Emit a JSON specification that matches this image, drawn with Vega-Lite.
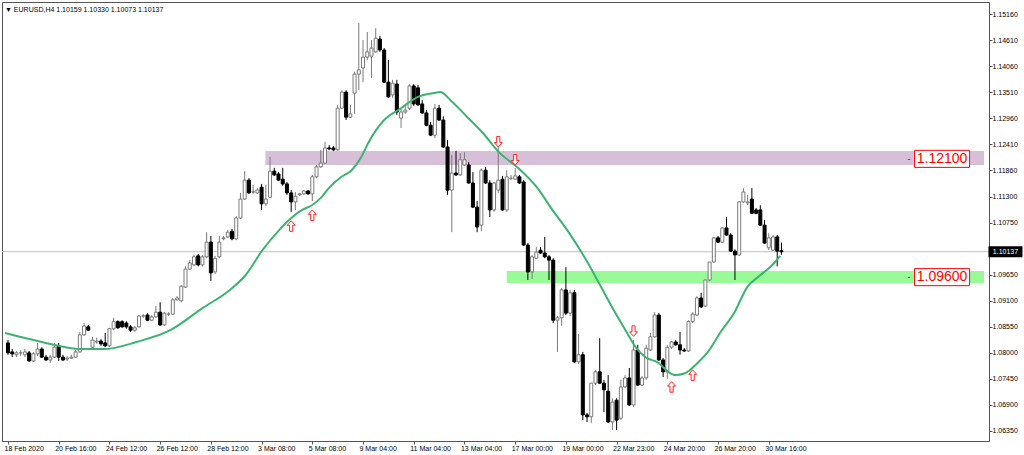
{
"$schema":"https://vega.github.io/schema/vega-lite/v6.json",
"width":987,"height":439,
"padding":{"left":2,"top":2,"right":35,"bottom":14},
"autosize":{"type":"none"},
"background":"#ffffff",
"config":{"view":{"stroke":"#555555","strokeWidth":1},"font":"Liberation Sans",
 "axis":{"tickColor":"#555555","domain":false,"grid":false,"labelFontSize":7,"labelFont":"Liberation Sans","labelColor":"#000000","labelOverlap":false,"labelBound":false,"labelFlush":false}},
"title":{"text":"▼ EURUSD,H4  1.10159 1.10330 1.10073 1.10137","anchor":"start","orient":"top","frame":"group","offset":-11,"dx":3,"fontSize":7,"font":"Liberation Sans","fontWeight":"normal","color":"#000000"},
"datasets":{
"zones":[{"i":60.9,"i2":230.92,"p1":1.12265,"p2":1.1197,"z":"resistance"},{"i":118.0,"i2":230.92,"p1":1.0973,"p2":1.09476,"z":"support"}],
"levels":[{"i":221.0,"p":1.121,"t":"1.12100"},{"i":221.0,"p":1.096,"t":"1.09600"}],
"last":[{"i":183,"p":1.10137,"t":"1.10137"}],
"candles":[
{"i":0,"o":1.0821,"h":1.0827,"l":1.0796,"c":1.0800,"d":"dn"},
{"i":1,"o":1.0802,"h":1.0808,"l":1.0791,"c":1.0798,"d":"dn"},
{"i":2,"o":1.0796,"h":1.0804,"l":1.0791,"c":1.0800,"d":"up"},
{"i":3,"o":1.0800,"h":1.0806,"l":1.0793,"c":1.0800,"d":"up"},
{"i":4,"o":1.0796,"h":1.0808,"l":1.0791,"c":1.0802,"d":"up"},
{"i":5,"o":1.0800,"h":1.0804,"l":1.0781,"c":1.0783,"d":"dn"},
{"i":6,"o":1.0783,"h":1.0802,"l":1.0781,"c":1.0798,"d":"up"},
{"i":7,"o":1.0798,"h":1.0821,"l":1.0793,"c":1.0808,"d":"up"},
{"i":8,"o":1.0808,"h":1.0812,"l":1.0789,"c":1.0791,"d":"dn"},
{"i":9,"o":1.0791,"h":1.0796,"l":1.0783,"c":1.0785,"d":"dn"},
{"i":10,"o":1.0785,"h":1.0796,"l":1.0779,"c":1.0791,"d":"up"},
{"i":11,"o":1.0791,"h":1.0821,"l":1.0789,"c":1.0812,"d":"up"},
{"i":12,"o":1.0815,"h":1.0821,"l":1.0783,"c":1.0791,"d":"dn"},
{"i":13,"o":1.0791,"h":1.0796,"l":1.0783,"c":1.0785,"d":"dn"},
{"i":14,"o":1.0787,"h":1.0793,"l":1.0783,"c":1.0789,"d":"up"},
{"i":15,"o":1.0789,"h":1.0796,"l":1.0787,"c":1.0791,"d":"up"},
{"i":16,"o":1.0791,"h":1.0806,"l":1.0789,"c":1.0802,"d":"up"},
{"i":17,"o":1.0802,"h":1.0844,"l":1.0800,"c":1.0838,"d":"up"},
{"i":18,"o":1.0838,"h":1.0863,"l":1.0836,"c":1.0857,"d":"up"},
{"i":19,"o":1.0855,"h":1.0859,"l":1.0846,"c":1.0848,"d":"dn"},
{"i":20,"o":1.0812,"h":1.0834,"l":1.0808,"c":1.0827,"d":"up"},
{"i":21,"o":1.0823,"h":1.0832,"l":1.0819,"c":1.0825,"d":"up"},
{"i":22,"o":1.0825,"h":1.0829,"l":1.0815,"c":1.0819,"d":"dn"},
{"i":23,"o":1.0821,"h":1.0842,"l":1.0812,"c":1.0815,"d":"dn"},
{"i":24,"o":1.0815,"h":1.0853,"l":1.0812,"c":1.0851,"d":"up"},
{"i":25,"o":1.0851,"h":1.0874,"l":1.0848,"c":1.0866,"d":"up"},
{"i":26,"o":1.0866,"h":1.0869,"l":1.0851,"c":1.0853,"d":"dn"},
{"i":27,"o":1.0866,"h":1.0869,"l":1.0853,"c":1.0855,"d":"dn"},
{"i":28,"o":1.0863,"h":1.0867,"l":1.0851,"c":1.0855,"d":"dn"},
{"i":29,"o":1.0855,"h":1.0859,"l":1.0844,"c":1.0848,"d":"dn"},
{"i":30,"o":1.0848,"h":1.0857,"l":1.0844,"c":1.0853,"d":"up"},
{"i":31,"o":1.0855,"h":1.0880,"l":1.0853,"c":1.0878,"d":"up"},
{"i":32,"o":1.0878,"h":1.0882,"l":1.0874,"c":1.0878,"d":"up"},
{"i":33,"o":1.0880,"h":1.0884,"l":1.0867,"c":1.0869,"d":"dn"},
{"i":34,"o":1.0869,"h":1.0880,"l":1.0867,"c":1.0876,"d":"up"},
{"i":35,"o":1.0876,"h":1.0899,"l":1.0874,"c":1.0886,"d":"up"},
{"i":36,"o":1.0886,"h":1.0907,"l":1.0857,"c":1.0859,"d":"dn"},
{"i":37,"o":1.0859,"h":1.0886,"l":1.0857,"c":1.0884,"d":"up"},
{"i":38,"o":1.0882,"h":1.0886,"l":1.0878,"c":1.0882,"d":"up"},
{"i":39,"o":1.0882,"h":1.0916,"l":1.0880,"c":1.0912,"d":"up"},
{"i":40,"o":1.0912,"h":1.0920,"l":1.0910,"c":1.0916,"d":"up"},
{"i":41,"o":1.0910,"h":1.0943,"l":1.0907,"c":1.0941,"d":"up"},
{"i":42,"o":1.0939,"h":1.0983,"l":1.0937,"c":1.0977,"d":"up"},
{"i":43,"o":1.0977,"h":1.0996,"l":1.0975,"c":1.0990,"d":"up"},
{"i":44,"o":1.0986,"h":1.1007,"l":1.0983,"c":1.1003,"d":"up"},
{"i":45,"o":1.1005,"h":1.1009,"l":1.0983,"c":1.0986,"d":"dn"},
{"i":46,"o":1.0986,"h":1.1007,"l":1.0983,"c":1.1003,"d":"up"},
{"i":47,"o":1.1003,"h":1.1055,"l":1.1000,"c":1.1034,"d":"up"},
{"i":48,"o":1.1034,"h":1.1047,"l":1.0952,"c":1.0969,"d":"dn"},
{"i":49,"o":1.0971,"h":1.1005,"l":1.0967,"c":1.1000,"d":"up"},
{"i":50,"o":1.1003,"h":1.1047,"l":1.1000,"c":1.1034,"d":"up"},
{"i":51,"o":1.1041,"h":1.1047,"l":1.1038,"c":1.1043,"d":"up"},
{"i":52,"o":1.1045,"h":1.1060,"l":1.1043,"c":1.1055,"d":"up"},
{"i":53,"o":1.1057,"h":1.1062,"l":1.1038,"c":1.1041,"d":"dn"},
{"i":54,"o":1.1041,"h":1.1089,"l":1.1038,"c":1.1085,"d":"up"},
{"i":55,"o":1.1085,"h":1.1138,"l":1.1083,"c":1.1125,"d":"up"},
{"i":56,"o":1.1125,"h":1.1184,"l":1.1123,"c":1.1165,"d":"up"},
{"i":57,"o":1.1165,"h":1.1169,"l":1.1136,"c":1.1138,"d":"dn"},
{"i":58,"o":1.1140,"h":1.1155,"l":1.1136,"c":1.1140,"d":"up"},
{"i":59,"o":1.1138,"h":1.1148,"l":1.1136,"c":1.1144,"d":"up"},
{"i":60,"o":1.1150,"h":1.1157,"l":1.1102,"c":1.1115,"d":"dn"},
{"i":61,"o":1.1115,"h":1.1155,"l":1.1110,"c":1.1125,"d":"up"},
{"i":62,"o":1.1129,"h":1.1214,"l":1.1127,"c":1.1184,"d":"up"},
{"i":63,"o":1.1184,"h":1.1191,"l":1.1174,"c":1.1176,"d":"dn"},
{"i":64,"o":1.1178,"h":1.1182,"l":1.1163,"c":1.1165,"d":"dn"},
{"i":65,"o":1.1167,"h":1.1191,"l":1.1153,"c":1.1157,"d":"dn"},
{"i":66,"o":1.1157,"h":1.1161,"l":1.1134,"c":1.1138,"d":"dn"},
{"i":67,"o":1.1138,"h":1.1144,"l":1.1098,"c":1.1119,"d":"dn"},
{"i":68,"o":1.1119,"h":1.1140,"l":1.1102,"c":1.1131,"d":"up"},
{"i":69,"o":1.1134,"h":1.1138,"l":1.1131,"c":1.1136,"d":"up"},
{"i":70,"o":1.1136,"h":1.1144,"l":1.1134,"c":1.1142,"d":"up"},
{"i":71,"o":1.1142,"h":1.1144,"l":1.1134,"c":1.1136,"d":"dn"},
{"i":72,"o":1.1136,"h":1.1176,"l":1.1121,"c":1.1172,"d":"up"},
{"i":73,"o":1.1172,"h":1.1197,"l":1.1169,"c":1.1193,"d":"up"},
{"i":74,"o":1.1193,"h":1.1229,"l":1.1191,"c":1.1201,"d":"up"},
{"i":75,"o":1.1201,"h":1.1246,"l":1.1199,"c":1.1233,"d":"up"},
{"i":76,"o":1.1233,"h":1.1239,"l":1.1229,"c":1.1231,"d":"dn"},
{"i":77,"o":1.1233,"h":1.1237,"l":1.1227,"c":1.1229,"d":"dn"},
{"i":78,"o":1.1229,"h":1.1324,"l":1.1227,"c":1.1317,"d":"up"},
{"i":79,"o":1.1317,"h":1.1355,"l":1.1315,"c":1.1351,"d":"up"},
{"i":80,"o":1.1351,"h":1.1355,"l":1.1292,"c":1.1298,"d":"dn"},
{"i":81,"o":1.1298,"h":1.1324,"l":1.1296,"c":1.1305,"d":"up"},
{"i":82,"o":1.1349,"h":1.1394,"l":1.1305,"c":1.1389,"d":"up"},
{"i":83,"o":1.1389,"h":1.1497,"l":1.1355,"c":1.1398,"d":"up"},
{"i":84,"o":1.1402,"h":1.1461,"l":1.1372,"c":1.1425,"d":"up"},
{"i":85,"o":1.1425,"h":1.1478,"l":1.1419,"c":1.1436,"d":"up"},
{"i":86,"o":1.1427,"h":1.1461,"l":1.1381,"c":1.1444,"d":"up"},
{"i":87,"o":1.1436,"h":1.1486,"l":1.1434,"c":1.1465,"d":"up"},
{"i":88,"o":1.1463,"h":1.1470,"l":1.1436,"c":1.1440,"d":"dn"},
{"i":89,"o":1.1440,"h":1.1444,"l":1.1370,"c":1.1372,"d":"dn"},
{"i":90,"o":1.1372,"h":1.1419,"l":1.1339,"c":1.1341,"d":"dn"},
{"i":91,"o":1.1345,"h":1.1377,"l":1.1339,"c":1.1370,"d":"up"},
{"i":92,"o":1.1368,"h":1.1377,"l":1.1303,"c":1.1309,"d":"dn"},
{"i":93,"o":1.1296,"h":1.1317,"l":1.1275,"c":1.1309,"d":"up"},
{"i":94,"o":1.1309,"h":1.1324,"l":1.1305,"c":1.1313,"d":"up"},
{"i":95,"o":1.1317,"h":1.1368,"l":1.1313,"c":1.1364,"d":"up"},
{"i":96,"o":1.1364,"h":1.1368,"l":1.1322,"c":1.1326,"d":"dn"},
{"i":97,"o":1.1360,"h":1.1366,"l":1.1322,"c":1.1324,"d":"dn"},
{"i":98,"o":1.1326,"h":1.1334,"l":1.1305,"c":1.1307,"d":"dn"},
{"i":99,"o":1.1307,"h":1.1313,"l":1.1279,"c":1.1281,"d":"dn"},
{"i":100,"o":1.1281,"h":1.1288,"l":1.1258,"c":1.1260,"d":"dn"},
{"i":101,"o":1.1260,"h":1.1326,"l":1.1254,"c":1.1317,"d":"up"},
{"i":102,"o":1.1317,"h":1.1324,"l":1.1290,"c":1.1292,"d":"dn"},
{"i":103,"o":1.1292,"h":1.1300,"l":1.1233,"c":1.1235,"d":"dn"},
{"i":104,"o":1.1235,"h":1.1250,"l":1.1134,"c":1.1144,"d":"dn"},
{"i":105,"o":1.1144,"h":1.1218,"l":1.1055,"c":1.1180,"d":"up"},
{"i":106,"o":1.1180,"h":1.1227,"l":1.1174,"c":1.1176,"d":"dn"},
{"i":107,"o":1.1176,"h":1.1222,"l":1.1174,"c":1.1208,"d":"up"},
{"i":108,"o":1.1197,"h":1.1224,"l":1.1195,"c":1.1208,"d":"up"},
{"i":109,"o":1.1197,"h":1.1203,"l":1.1157,"c":1.1159,"d":"dn"},
{"i":110,"o":1.1159,"h":1.1182,"l":1.1106,"c":1.1108,"d":"dn"},
{"i":111,"o":1.1108,"h":1.1121,"l":1.1055,"c":1.1066,"d":"dn"},
{"i":112,"o":1.1070,"h":1.1190,"l":1.1057,"c":1.1186,"d":"up"},
{"i":113,"o":1.1186,"h":1.1193,"l":1.1157,"c":1.1159,"d":"dn"},
{"i":114,"o":1.1159,"h":1.1165,"l":1.1087,"c":1.1102,"d":"dn"},
{"i":115,"o":1.1102,"h":1.1161,"l":1.1098,"c":1.1159,"d":"up"},
{"i":116,"o":1.1144,"h":1.1235,"l":1.1138,"c":1.1165,"d":"up"},
{"i":117,"o":1.1167,"h":1.1174,"l":1.1100,"c":1.1102,"d":"dn"},
{"i":118,"o":1.1102,"h":1.1186,"l":1.1098,"c":1.1172,"d":"up"},
{"i":119,"o":1.1169,"h":1.1176,"l":1.1165,"c":1.1169,"d":"up"},
{"i":120,"o":1.1167,"h":1.1191,"l":1.1165,"c":1.1174,"d":"up"},
{"i":121,"o":1.1172,"h":1.1176,"l":1.1157,"c":1.1159,"d":"dn"},
{"i":122,"o":1.1161,"h":1.1165,"l":1.1026,"c":1.1028,"d":"dn"},
{"i":123,"o":1.1028,"h":1.1032,"l":1.0954,"c":1.0971,"d":"dn"},
{"i":124,"o":1.0971,"h":1.1007,"l":1.0956,"c":1.1003,"d":"up"},
{"i":125,"o":1.1000,"h":1.1024,"l":1.0998,"c":1.1013,"d":"up"},
{"i":126,"o":1.1017,"h":1.1024,"l":1.1009,"c":1.1011,"d":"dn"},
{"i":127,"o":1.1011,"h":1.1045,"l":1.1000,"c":1.1003,"d":"dn"},
{"i":128,"o":1.1003,"h":1.1007,"l":1.0954,"c":1.0996,"d":"dn"},
{"i":129,"o":1.0996,"h":1.1000,"l":1.0863,"c":1.0869,"d":"dn"},
{"i":130,"o":1.0869,"h":1.0878,"l":1.0802,"c":1.0874,"d":"up"},
{"i":131,"o":1.0874,"h":1.0937,"l":1.0857,"c":1.0933,"d":"up"},
{"i":132,"o":1.0933,"h":1.0981,"l":1.0880,"c":1.0884,"d":"dn"},
{"i":133,"o":1.0884,"h":1.0933,"l":1.0878,"c":1.0927,"d":"up"},
{"i":134,"o":1.0927,"h":1.0933,"l":1.0779,"c":1.0781,"d":"dn"},
{"i":135,"o":1.0781,"h":1.0840,"l":1.0777,"c":1.0796,"d":"up"},
{"i":136,"o":1.0796,"h":1.0802,"l":1.0658,"c":1.0669,"d":"dn"},
{"i":137,"o":1.0669,"h":1.0673,"l":1.0654,"c":1.0665,"d":"dn"},
{"i":138,"o":1.0665,"h":1.0736,"l":1.0652,"c":1.0736,"d":"up"},
{"i":139,"o":1.0736,"h":1.0764,"l":1.0732,"c":1.0760,"d":"up"},
{"i":140,"o":1.0760,"h":1.0831,"l":1.0734,"c":1.0736,"d":"dn"},
{"i":141,"o":1.0736,"h":1.0743,"l":1.0675,"c":1.0722,"d":"dn"},
{"i":142,"o":1.0719,"h":1.0753,"l":1.0652,"c":1.0654,"d":"dn"},
{"i":143,"o":1.0654,"h":1.0704,"l":1.0637,"c":1.0696,"d":"up"},
{"i":144,"o":1.0700,"h":1.0704,"l":1.0637,"c":1.0658,"d":"dn"},
{"i":145,"o":1.0662,"h":1.0743,"l":1.0658,"c":1.0728,"d":"up"},
{"i":146,"o":1.0728,"h":1.0753,"l":1.0726,"c":1.0747,"d":"up"},
{"i":147,"o":1.0747,"h":1.0768,"l":1.0688,"c":1.0690,"d":"dn"},
{"i":148,"o":1.0690,"h":1.0827,"l":1.0686,"c":1.0806,"d":"up"},
{"i":149,"o":1.0806,"h":1.0817,"l":1.0730,"c":1.0732,"d":"dn"},
{"i":150,"o":1.0732,"h":1.0751,"l":1.0730,"c":1.0747,"d":"up"},
{"i":151,"o":1.0747,"h":1.0817,"l":1.0743,"c":1.0810,"d":"up"},
{"i":152,"o":1.0806,"h":1.0842,"l":1.0804,"c":1.0834,"d":"up"},
{"i":153,"o":1.0834,"h":1.0886,"l":1.0832,"c":1.0880,"d":"up"},
{"i":154,"o":1.0880,"h":1.0884,"l":1.0783,"c":1.0785,"d":"dn"},
{"i":155,"o":1.0785,"h":1.0789,"l":1.0749,"c":1.0760,"d":"dn"},
{"i":156,"o":1.0760,"h":1.0817,"l":1.0745,"c":1.0812,"d":"up"},
{"i":157,"o":1.0812,"h":1.0825,"l":1.0808,"c":1.0823,"d":"up"},
{"i":158,"o":1.0823,"h":1.0827,"l":1.0815,"c":1.0817,"d":"dn"},
{"i":159,"o":1.0817,"h":1.0844,"l":1.0796,"c":1.0806,"d":"dn"},
{"i":160,"o":1.0806,"h":1.0810,"l":1.0802,"c":1.0804,"d":"dn"},
{"i":161,"o":1.0804,"h":1.0869,"l":1.0802,"c":1.0866,"d":"up"},
{"i":162,"o":1.0866,"h":1.0886,"l":1.0863,"c":1.0882,"d":"up"},
{"i":163,"o":1.0880,"h":1.0920,"l":1.0878,"c":1.0916,"d":"up"},
{"i":164,"o":1.0916,"h":1.0927,"l":1.0895,"c":1.0897,"d":"dn"},
{"i":165,"o":1.0899,"h":1.0954,"l":1.0897,"c":1.0954,"d":"up"},
{"i":166,"o":1.0954,"h":1.0992,"l":1.0952,"c":1.0992,"d":"up"},
{"i":167,"o":1.0992,"h":1.1045,"l":1.0990,"c":1.1043,"d":"up"},
{"i":168,"o":1.1043,"h":1.1047,"l":1.1032,"c":1.1034,"d":"dn"},
{"i":169,"o":1.1034,"h":1.1066,"l":1.1032,"c":1.1064,"d":"up"},
{"i":170,"o":1.1064,"h":1.1087,"l":1.1047,"c":1.1049,"d":"dn"},
{"i":171,"o":1.1049,"h":1.1053,"l":1.1013,"c":1.1015,"d":"dn"},
{"i":172,"o":1.1015,"h":1.1019,"l":1.0954,"c":1.1007,"d":"dn"},
{"i":173,"o":1.1007,"h":1.1121,"l":1.1005,"c":1.1119,"d":"up"},
{"i":174,"o":1.1119,"h":1.1148,"l":1.1117,"c":1.1140,"d":"up"},
{"i":175,"o":1.1117,"h":1.1134,"l":1.1112,"c":1.1119,"d":"up"},
{"i":176,"o":1.1125,"h":1.1148,"l":1.1093,"c":1.1095,"d":"dn"},
{"i":177,"o":1.1102,"h":1.1106,"l":1.1093,"c":1.1095,"d":"dn"},
{"i":178,"o":1.1102,"h":1.1112,"l":1.1068,"c":1.1070,"d":"dn"},
{"i":179,"o":1.1070,"h":1.1081,"l":1.1030,"c":1.1032,"d":"dn"},
{"i":180,"o":1.1022,"h":1.1053,"l":1.1017,"c":1.1043,"d":"up"},
{"i":181,"o":1.1017,"h":1.1049,"l":1.1015,"c":1.1045,"d":"up"},
{"i":182,"o":1.1045,"h":1.1049,"l":1.0983,"c":1.1015,"d":"dn"},
{"i":183,"o":1.10159,"h":1.10330,"l":1.10073,"c":1.10137,"d":"dn"}
],
"ma":[
{"i":-0.7,"p":1.0842},{"i":7.0,"p":1.0825},{"i":15.0,"p":1.0810},{"i":17.3,"p":1.0808},{"i":22.7,"p":1.0808},{"i":30.4,"p":1.0823},{"i":38.4,"p":1.0848},{"i":46.1,"p":1.0895},{"i":52.5,"p":1.0933},{"i":56.2,"p":1.0964},{"i":60.2,"p":1.1017},{"i":64.2,"p":1.1060},{"i":66.5,"p":1.1081},{"i":69.6,"p":1.1102},{"i":71.9,"p":1.1112},{"i":74.2,"p":1.1129},{"i":75.9,"p":1.1148},{"i":78.9,"p":1.1172},{"i":81.3,"p":1.1186},{"i":83.6,"p":1.1214},{"i":85.2,"p":1.1243},{"i":89.0,"p":1.1292},{"i":93.0,"p":1.1317},{"i":97.0,"p":1.1341},{"i":100.7,"p":1.1349},{"i":102.3,"p":1.1351},{"i":104.7,"p":1.1334},{"i":108.7,"p":1.1298},{"i":112.4,"p":1.1264},{"i":116.4,"p":1.1222},{"i":120.4,"p":1.1193},{"i":125.1,"p":1.1150},{"i":128.8,"p":1.1102},{"i":132.8,"p":1.1053},{"i":136.8,"p":1.0996},{"i":139.8,"p":1.0948},{"i":142.9,"p":1.0897},{"i":146.1,"p":1.0848},{"i":148.5,"p":1.0812},{"i":150.8,"p":1.0791},{"i":153.9,"p":1.0779},{"i":156.2,"p":1.0760},{"i":157.8,"p":1.0753},{"i":160.2,"p":1.0757},{"i":163.2,"p":1.0779},{"i":165.6,"p":1.0802},{"i":168.6,"p":1.0844},{"i":171.9,"p":1.0886},{"i":174.9,"p":1.0939},{"i":178.0,"p":1.0964},{"i":181.3,"p":1.0990},{"i":182.7,"p":1.1005}
],
"arrows":[
{"i":67,"p":1.1068,"dir":"up"},{"i":72,"p":1.1091,"dir":"up"},{"i":116,"p":1.1246,"dir":"down"},{"i":120,"p":1.1208,"dir":"down"},{"i":148,"p":1.0846,"dir":"down"},{"i":157,"p":1.0728,"dir":"up"},{"i":162,"p":1.0753,"dir":"up"}
]
},
"layer":[
{"data":{"name":"zones"},"mark":{"type":"rect"},
 "encoding":{
  "x":{"field":"i","type":"quantitative","scale":{"domain":[-0.234,230.92],"nice":false,"zero":false},
   "axis":{"title":null,"values":[0,12,24,36,48,60,72,84,96,108,120,132,144,156,168,180],"tickCount":40,
    "labelExpr":"['18 Feb 2020','20 Feb 16:00','24 Feb 12:00','26 Feb 12:00','28 Feb 12:00','3 Mar 08:00','5 Mar 08:00','9 Mar 04:00','11 Mar 04:00','13 Mar 04:00','17 Mar 00:00','19 Mar 00:00','22 Mar 23:00','24 Mar 20:00','26 Mar 20:00','30 Mar 16:00'][round(datum.value/12)]",
    "labelAlign":"left","labelOffset":-4,"labelBaseline":"top","labelPadding":0,"tickSize":3,"labelOverlap":false,"labelBound":false,"labelFlush":false}},
  "x2":{"field":"i2"},
  "y":{"field":"p1","type":"quantitative","scale":{"domain":[1.06138,1.15414],"nice":false,"zero":false},
   "axis":{"orient":"right","title":null,"values":[1.0635,1.069,1.0745,1.08,1.0855,1.091,1.0965,1.1075,1.113,1.1186,1.1241,1.1296,1.1351,1.1406,1.1461,1.1516],"tickCount":40,"format":".5f","tickSize":3,"labelPadding":0,"labelOverlap":false,"labelBound":false,"labelFlush":false}},
  "y2":{"field":"p2"},
  "fill":{"condition":{"test":"datum.z==='resistance'","value":"#d8bfd8"},"value":"#98fb98"}
 }},
{"data":{"name":"last"},"mark":{"type":"rule","color":"#c0c0c0","strokeWidth":1},
 "encoding":{"y":{"field":"p","type":"quantitative","scale":{"domain":[1.06138,1.15414],"nice":false,"zero":false}}}},
{"data":{"name":"candles"},"mark":{"type":"rule","strokeWidth":1},
 "encoding":{
  "x":{"field":"i","type":"quantitative","scale":{"domain":[-0.234,230.92],"nice":false,"zero":false}},
  "y":{"field":"l","type":"quantitative","scale":{"domain":[1.06138,1.15414],"nice":false,"zero":false}},
  "y2":{"field":"h"},
  "color":{"condition":{"test":"datum.d==='up'","value":"#7a7a7a"},"value":"#000000"}
 }},
{"data":{"name":"candles"},"mark":{"type":"bar","width":3,"strokeWidth":1},
 "encoding":{
  "x":{"field":"i","type":"quantitative","scale":{"domain":[-0.234,230.92],"nice":false,"zero":false}},
  "y":{"field":"o","type":"quantitative","scale":{"domain":[1.06138,1.15414],"nice":false,"zero":false}},
  "y2":{"field":"c"},
  "fill":{"condition":{"test":"datum.d==='up'","value":"#ffffff"},"value":"#000000"},
  "stroke":{"condition":{"test":"datum.d==='up'","value":"#7a7a7a"},"value":"#000000"}
 }},
{"data":{"name":"ma"},"mark":{"type":"line","color":"#3cb371","strokeWidth":2,"clip":true,"interpolate":"monotone"},
 "encoding":{
  "x":{"field":"i","type":"quantitative","scale":{"domain":[-0.234,230.92],"nice":false,"zero":false}},
  "y":{"field":"p","type":"quantitative","scale":{"domain":[1.06138,1.15414],"nice":false,"zero":false}}
 }},
{"data":{"name":"arrows"},"mark":{"type":"point","filled":true,"fill":"#ffffff","stroke":"#ff2020","strokeWidth":1,"size":110,"opacity":1},
 "encoding":{
  "x":{"field":"i","type":"quantitative","scale":{"domain":[-0.234,230.92],"nice":false,"zero":false}},
  "y":{"field":"p","type":"quantitative","scale":{"domain":[1.06138,1.15414],"nice":false,"zero":false}},
  "shape":{"condition":{"test":"datum.dir==='up'","value":"M0,-1L0.75,-0.15L0.3,-0.15L0.3,1L-0.3,1L-0.3,-0.15L-0.75,-0.15Z"},"value":"M0,1L0.75,0.15L0.3,0.15L0.3,-1L-0.3,-1L-0.3,0.15L-0.75,0.15Z"}
 }},
{"data":{"name":"levels"},"mark":{"type":"point","filled":true,"fill":"#ffffff","stroke":"#ff0000","strokeWidth":1,"size":3025,"opacity":1,"shape":"M-1,-0.31H1V0.31H-1Z"},
 "encoding":{
  "x":{"field":"i","type":"quantitative","scale":{"domain":[-0.234,230.92],"nice":false,"zero":false}},
  "y":{"field":"p","type":"quantitative","scale":{"domain":[1.06138,1.15414],"nice":false,"zero":false}}
 }},
{"data":{"name":"levels"},"mark":{"type":"text","color":"#ff0000","fontSize":14,"font":"Liberation Sans","align":"center","baseline":"middle"},
 "encoding":{
  "x":{"field":"i","type":"quantitative","scale":{"domain":[-0.234,230.92],"nice":false,"zero":false}},
  "y":{"field":"p","type":"quantitative","scale":{"domain":[1.06138,1.15414],"nice":false,"zero":false}},
  "text":{"field":"t"}
 }},
{"data":{"name":"levels"},"mark":{"type":"text","color":"#ff0000","fontSize":10,"font":"Liberation Sans","align":"center","baseline":"middle","dx":-33,"text":"-"},
 "encoding":{
  "x":{"field":"i","type":"quantitative","scale":{"domain":[-0.234,230.92],"nice":false,"zero":false}},
  "y":{"field":"p","type":"quantitative","scale":{"domain":[1.06138,1.15414],"nice":false,"zero":false}}
 }},
{"data":{"name":"last"},"mark":{"type":"point","filled":true,"fill":"#000000","strokeWidth":0,"size":1156,"opacity":1,"shape":"M-1,-0.33H1V0.33H-1Z","xOffset":224},
 "encoding":{
  "x":{"field":"i","type":"quantitative","scale":{"domain":[-0.234,230.92],"nice":false,"zero":false}},
  "y":{"field":"p","type":"quantitative","scale":{"domain":[1.06138,1.15414],"nice":false,"zero":false}}
 }},
{"data":{"name":"last"},"mark":{"type":"text","color":"#ffffff","fontSize":7,"font":"Liberation Sans","align":"center","baseline":"middle","dx":224},
 "encoding":{
  "x":{"field":"i","type":"quantitative","scale":{"domain":[-0.234,230.92],"nice":false,"zero":false}},
  "y":{"field":"p","type":"quantitative","scale":{"domain":[1.06138,1.15414],"nice":false,"zero":false}},
  "text":{"field":"t"}
 }}
]
}
